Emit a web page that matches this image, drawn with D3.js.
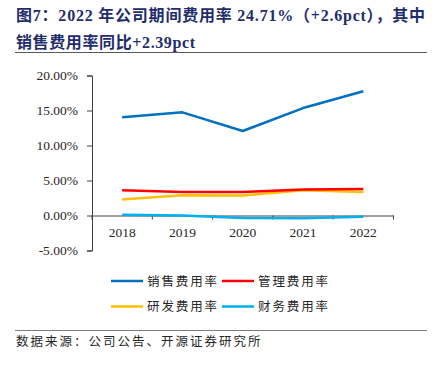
<!DOCTYPE html>
<html>
<head>
<meta charset="utf-8">
<script src="https://cdn.jsdelivr.net/npm/d3@7"></script>
<style>
  body { margin: 0; background: #fff; }
  svg { display: block; }
</style>
</head>
<body>
<div id="chart"></div>
<script>
// data
const years = ["2018", "2019", "2020", "2021", "2022"];
const salesRate = [14.03, 14.74, 12.07, 15.35, 17.74];   // 销售费用率
const adminRate = [3.6, 3.35, 3.35, 3.7, 3.8];           // 管理费用率
const rdRate = [2.3, 2.9, 2.85, 3.6, 3.35];              // 研发费用率
const financeRate = [0.1, 0.0, -0.35, -0.4, -0.18];     // 财务费用率
const yTicks = [-5, 0, 5, 10, 15, 20];

const series = [
  { name: "销售费用率", values: salesRate, color: "#0070C0" },
  { name: "管理费用率", values: adminRate, color: "#FF0000" },
  { name: "研发费用率", values: rdRate, color: "#FFC000" },
  { name: "财务费用率", values: financeRate, color: "#00B0F0" },
];

const W = 441, H = 367;
const svg = d3.select('#chart').append('svg')
  .attr('width', W)
  .attr('height', H);

const titleColor = '#1F2D6B';
const cjk = '"Noto Sans CJK SC", sans-serif';
const serif = '"Liberation Serif", "Times New Roman", serif';

// title (two lines)
svg.append('text')
  .attr('x', 16).attr('y', 21)
  .attr('textLength', 409).attr('lengthAdjust', 'spacing')
  .style('font-family', `${serif}, ${cjk}`)
  .style('font-weight', 'bold')
  .style('font-size', '16px')
  .style('fill', titleColor)
  .text('图7：2022 年公司期间费用率 24.71%（+2.6pct），其中');

svg.append('text')
  .attr('x', 16).attr('y', 48)
  .attr('textLength', 179).attr('lengthAdjust', 'spacing')
  .style('font-family', `${serif}, ${cjk}`)
  .style('font-weight', 'bold')
  .style('font-size', '16px')
  .style('fill', titleColor)
  .text('销售费用率同比+2.39pct');

// rules
svg.append('line')
  .attr('x1', 15).attr('x2', 427).attr('y1', 52.5).attr('y2', 52.5)
  .attr('stroke', '#595959').attr('stroke-width', 1);
svg.append('line')
  .attr('x1', 15).attr('x2', 427).attr('y1', 330.5).attr('y2', 330.5)
  .attr('stroke', '#7f7f7f').attr('stroke-width', 1);

// scales
const x = d3.scaleBand().domain(years).range([92, 393.5]);
const y = d3.scaleLinear().domain([-5, 20]).range([250.5, 75.5]);

const g = svg.append('g');

// y axis
const yAxis = g.append('g')
  .attr('transform', 'translate(92,0)')
  .call(d3.axisLeft(y).tickValues(yTicks).tickSize(5).tickFormat(d => d.toFixed(2) + '%'));
yAxis.select('.domain').attr('stroke', '#404040');
yAxis.selectAll('.tick line').attr('stroke', '#404040');
yAxis.selectAll('text')
  .attr('x', -14)
  .style('font-family', serif)
  .style('font-size', '13.5px')
  .style('fill', '#262626');

// x axis at zero
const xAxis = g.append('g')
  .attr('transform', `translate(0,${y(0)})`)
  .call(d3.axisBottom(x).tickSize(0).tickPadding(12));
xAxis.select('.domain').attr('stroke', '#404040');
xAxis.selectAll('text')
  .style('font-family', serif)
  .style('font-size', '13.5px')
  .style('fill', '#262626');
// boundary ticks between categories
g.selectAll('.xtick')
  .data(years.concat(['end']))
  .join('line')
  .attr('class', 'xtick')
  .attr('x1', (d, i) => i < years.length ? x(d) : x(years[years.length - 1]) + x.bandwidth())
  .attr('x2', (d, i) => i < years.length ? x(d) : x(years[years.length - 1]) + x.bandwidth())
  .attr('y1', y(0))
  .attr('y2', y(0) + 4)
  .attr('stroke', '#404040');

// lines
const line = d3.line()
  .x((d, i) => x(years[i]) + x.bandwidth() / 2)
  .y(d => y(d));

g.selectAll('.series')
  .data(series.slice().reverse())
  .join('path')
  .attr('class', 'series')
  .attr('d', d => line(d.values))
  .attr('fill', 'none')
  .attr('stroke', d => d.color)
  .attr('stroke-width', 2.5)
  .attr('stroke-linejoin', 'round');

// legend
const legendPos = [
  { x: 111, y: 281 },
  { x: 222, y: 281 },
  { x: 111, y: 306.5 },
  { x: 222, y: 306.5 },
];
const legend = svg.append('g')
  .selectAll('g')
  .data(series)
  .join('g')
  .attr('transform', (d, i) => `translate(${legendPos[i].x},${legendPos[i].y})`);
legend.append('line')
  .attr('x1', 0).attr('x2', 32)
  .attr('stroke', d => d.color)
  .attr('stroke-width', 2.5);
legend.append('text')
  .attr('x', 36)
  .attr('dy', '0.36em')
  .style('font-family', cjk)
  .style('font-size', '12.5px')
  .style('letter-spacing', '1.9px')
  .style('fill', '#262626')
  .text(d => d.name);

// source note
svg.append('text')
  .attr('x', 16).attr('y', 346)
  .style('font-family', cjk)
  .style('font-size', '12.5px')
  .style('letter-spacing', '2px')
  .style('fill', '#262626')
  .text('数据来源：公司公告、开源证券研究所');
</script>
</body>
</html>
